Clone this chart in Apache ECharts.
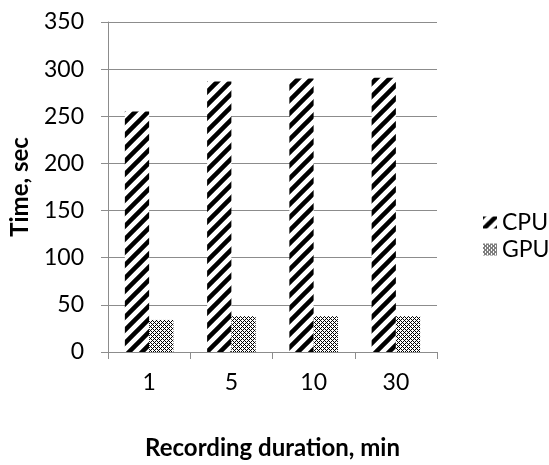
<!DOCTYPE html>
<html>
<head>
<meta charset="utf-8">
<script src="https://cdn.jsdelivr.net/npm/echarts@6/dist/echarts.min.js"></script>
<style>
  html, body { margin: 0; padding: 0; background: #fff; }
  #chart { width: 549px; height: 465px; }
</style>
</head>
<body>
<div id="chart"></div>
<script>
const categories = ["1", "5", "10", "30"];
const cpuTimes = [255, 287, 290, 291];
const gpuTimes = [34, 38, 38, 38];

// diagonal stripe fill for CPU
function stripePattern() {
  const c = document.createElement("canvas");
  c.width = 13;
  c.height = 13;
  const ctx = c.getContext("2d");
  ctx.fillStyle = "#fff";
  ctx.fillRect(0, 0, 13, 13);
  ctx.strokeStyle = "#000";
  ctx.lineWidth = 4.5;
  ctx.beginPath();
  ctx.moveTo(-3, 16); ctx.lineTo(16, -3);
  ctx.moveTo(-10, 10); ctx.lineTo(10, -10);
  ctx.moveTo(3, 23); ctx.lineTo(23, 3);
  ctx.stroke();
  return c;
}

// small checker fill for GPU
function checkPattern() {
  const c = document.createElement("canvas");
  c.width = 4;
  c.height = 4;
  const ctx = c.getContext("2d");
  ctx.fillStyle = "#fff";
  ctx.fillRect(0, 0, 4, 4);
  ctx.fillStyle = "#000";
  for (let x = 0; x < 4; x++) {
    for (let y = 0; y < 4; y++) {
      if ((x + y) % 4 === 0 || (x - y + 4) % 4 === 0 || (x + y) % 4 === 2 && x % 2 === 1) ctx.fillRect(x, y, 1, 1);
    }
  }
  return c;
}

const font = "Lato";
const grey = "#8c8c8c";
const chart = echarts.init(document.getElementById("chart"));
chart.setOption({
  animation: false,
  textStyle: { fontFamily: font },
  grid: { left: 106, right: 112, top: 22, bottom: 106 },
  legend: {
    orient: "vertical",
    left: 478,
    top: 206,
    itemWidth: 14,
    itemHeight: 12,
    itemGap: 4,
    icon: "rect",
    textStyle: { fontSize: 23, color: "#000", fontFamily: font },
    data: ["CPU", "GPU"],
  },
  xAxis: {
    type: "category",
    data: categories,
    name: "Recording duration, min",
    nameLocation: "middle",
    nameGap: 84,
    nameTextStyle: { fontSize: 24, fontWeight: "bold", color: "#000" },
    axisLine: { lineStyle: { color: grey, width: 1 } },
    axisTick: { show: true, length: 7, lineStyle: { color: grey } },
    axisLabel: { fontSize: 23, color: "#000", margin: 19 },
  },
  yAxis: {
    type: "value",
    min: 0,
    max: 350,
    interval: 50,
    name: "Time, sec",
    nameLocation: "middle",
    nameGap: 76,
    nameTextStyle: { fontSize: 24, fontWeight: "bold", color: "#000" },
    axisLine: { show: true, lineStyle: { color: grey, width: 1 } },
    axisTick: { show: true, length: 7, lineStyle: { color: grey } },
    axisLabel: { fontSize: 23, color: "#000", margin: 24 },
    splitLine: { lineStyle: { color: grey, width: 1 } },
  },
  series: [
    {
      name: "CPU",
      type: "bar",
      data: cpuTimes,
      barGap: "0%",
      barCategoryGap: "41%",
      itemStyle: { color: { image: stripePattern(), repeat: "repeat" } },
    },
    {
      name: "GPU",
      type: "bar",
      data: gpuTimes,
      itemStyle: { color: { image: checkPattern(), repeat: "repeat" } },
    },
  ],
});
</script>
</body>
</html>
